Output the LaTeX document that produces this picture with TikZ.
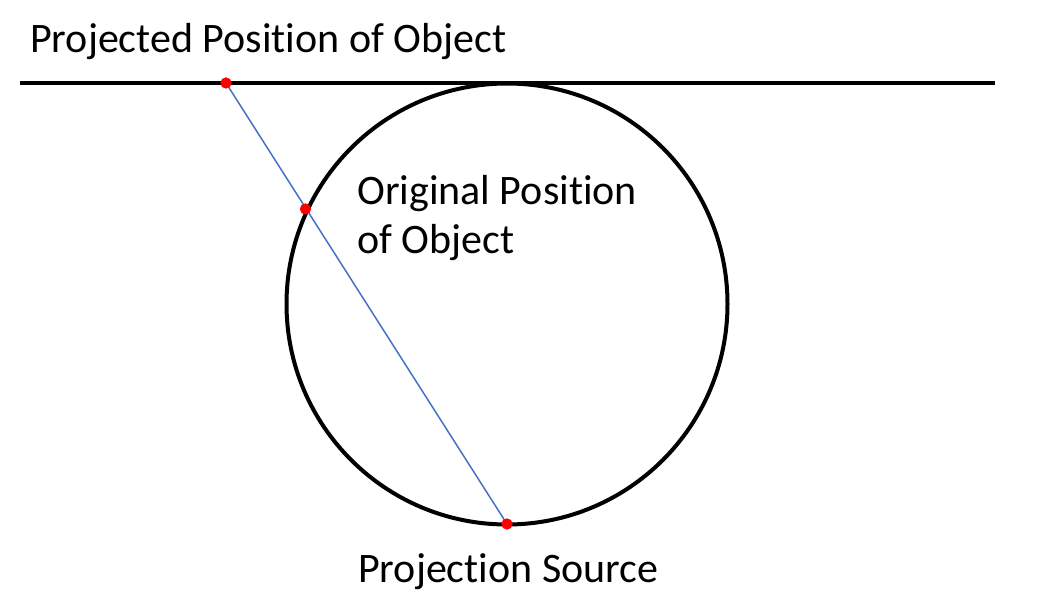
\documentclass[tikz,border=0pt]{standalone}
\usepackage{fontspec}
\setmainfont[Ligatures=NoCommon]{Carlito}
\begin{document}
\begin{tikzpicture}[x=1pt,y=-1pt,
  lbl/.style={inner sep=0pt,anchor=base west,font=\fontsize{42}{49}\selectfont,align=left},
  blk/.style={line width=4pt,black},
  ray/.style={line width=1.5pt,color={rgb,255:red,68;green,114;blue,196}},
  reddot/.style={circle,fill=red,inner sep=0pt,minimum size=11pt}]
\useasboundingbox (0,0) rectangle (1045,604);
\coordinate (L) at (20,83);
\coordinate (R) at (995,83);
\coordinate (C) at (507,304);
\draw[blk] (L) -- (R);
\draw[blk] (C) circle (220.5);
\node[reddot] (P) at (226,83) {};
\node[reddot] (O) at (305.5,209) {};
\node[reddot] (S) at (507,524) {};
\draw[ray] (P.center) -- (S.center);
\node[reddot] at (P.center) {};
\node[reddot] at (O.center) {};
\node[reddot] at (S.center) {};
\node[lbl] (t1) at (30,53) {Projected Position of Object};
\node[lbl] (t2a) at (357,205) {Original Position};
\node[lbl] (t2b) at (357,254) {of Object};
\node[lbl] (t3) at (358,582) {Projection Source};
\end{tikzpicture}
\end{document}
